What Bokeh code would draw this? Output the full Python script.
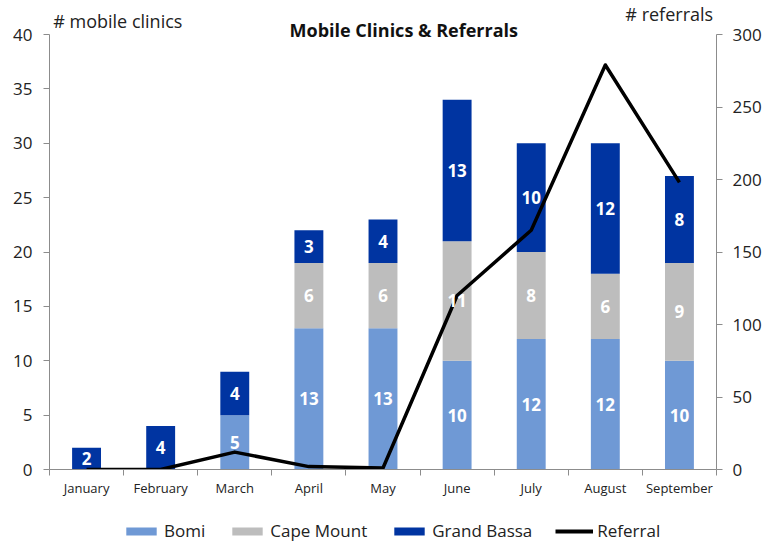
from bokeh.plotting import figure
from bokeh.layouts import column
from bokeh.models import (Range1d, LinearAxis, FixedTicker, Legend, LegendItem,
                          Label, ColumnDataSource)
from bokeh.core.properties import value
from bokeh.embed import file_html
from bokeh.resources import INLINE

months = ["January", "February", "March", "April", "May", "June",
          "July", "August", "September"]
bomi = [0, 0, 5, 13, 13, 10, 12, 12, 10]
cape_mount = [0, 0, 0, 6, 6, 11, 8, 6, 9]
grand_bassa = [2, 4, 4, 3, 4, 13, 10, 12, 8]
referrals = [0, 0, 12, 2, 1, 120, 165, 279, 198]
left_ticks = [0, 5, 10, 15, 20, 25, 30, 35, 40]
right_ticks = [0, 50, 100, 150, 200, 250, 300]
series_names = ["Bomi", "Cape Mount", "Grand Bassa", "Referral"]

C_BOMI = "#6F99D5"
C_CAPE = "#BDBDBD"
C_BASSA = "#0034A1"
AX = "#8C8C8C"
FONT = "Open Sans"

n = len(months)
xs = [i + 0.5 for i in range(n)]

LEFT_MAX = 40
RIGHT_MAX = 300
TOP_PAD = 469 / 435.0   # extra room above the 40 tick for titles

p = figure(width=782, height=500, output_backend="svg", toolbar_location=None,
           x_range=Range1d(0, n), y_range=Range1d(0, LEFT_MAX * TOP_PAD),
           min_border_left=49, min_border_right=66, min_border_top=0,
           min_border_bottom=31)
p.extra_y_ranges = {"ref": Range1d(0, RIGHT_MAX * TOP_PAD)}
p.outline_line_color = None
p.xgrid.visible = False
p.ygrid.visible = False
p.background_fill_color = "white"
p.border_fill_color = "white"

src = ColumnDataSource(dict(x=xs, bomi=bomi, cape=cape_mount, bassa=grand_bassa))
rs = p.vbar_stack(["bomi", "cape", "bassa"], x="x", width=0.39, source=src,
                  color=[C_BOMI, C_CAPE, C_BASSA], line_color=None)

line = p.line(xs, referrals, y_range_name="ref", line_color="black",
              line_width=3.5, line_join="round")

lx, ly, lt = [], [], []
for i in range(n):
    base = 0
    for v in (bomi[i], cape_mount[i], grand_bassa[i]):
        if v:
            lx.append(xs[i]); ly.append(base + v / 2); lt.append(str(v))
        base += v
p.text(x=lx, y=ly, text=lt, text_color="white", text_font=value(FONT),
       text_font_style="bold", text_font_size="17px", text_align="center",
       text_baseline="middle")

xa = p.xaxis[0]
xa.ticker = FixedTicker(ticks=xs, minor_ticks=list(range(n + 1)))
xa.major_label_overrides = {x: m for x, m in zip(xs, months)}
xa.major_tick_line_color = None
xa.minor_tick_line_color = AX
xa.minor_tick_out = 6
xa.minor_tick_in = 0
xa.axis_line_color = AX
xa.major_label_text_font = FONT
xa.major_label_text_font_size = "13px"
xa.major_label_text_color = "#222222"
xa.major_label_standoff = 3

ya = p.yaxis[0]
ya.ticker = FixedTicker(ticks=left_ticks)
ya.bounds = (0, LEFT_MAX)
ya.axis_line_color = AX
ya.major_tick_line_color = AX
ya.major_tick_out = 6
ya.major_tick_in = 0
ya.minor_tick_line_color = None
ya.major_label_text_font = FONT
ya.major_label_text_font_size = "17px"
ya.major_label_text_color = "#222222"
ya.major_label_standoff = 11

ra = LinearAxis(y_range_name="ref", ticker=FixedTicker(ticks=right_ticks),
                bounds=(0, RIGHT_MAX))
ra.axis_line_color = AX
ra.major_tick_line_color = AX
ra.major_tick_out = 6
ra.major_tick_in = 0
ra.minor_tick_line_color = None
ra.major_label_text_font = FONT
ra.major_label_text_font_size = "17px"
ra.major_label_text_color = "#222222"
ra.major_label_standoff = 10
p.add_layout(ra, "right")

p.add_layout(Label(x=4.78, y=40.37, text="Mobile Clinics & Referrals",
                   text_font=FONT, text_font_style="bold", text_font_size="18px",
                   text_align="center", text_baseline="middle", text_color="#111111"))
p.add_layout(Label(x=0.05, y=41.2, text="# mobile clinics", text_font=FONT,
                   text_font_size="18px", text_align="left", text_baseline="middle",
                   text_color="#222222"))
p.add_layout(Label(x=7.77, y=41.93, text="# referrals", text_font=FONT,
                   text_font_size="18px", text_align="left", text_baseline="middle",
                   text_color="#222222"))

# legend strip below the chart (proxy renderers lie outside its visible range)
lg = figure(width=782, height=44, output_backend="svg", toolbar_location=None,
            x_range=Range1d(0, 1), y_range=Range1d(0, 1),
            min_border_left=49, min_border_right=66, min_border_top=0,
            min_border_bottom=0)
lg.axis.visible = False
lg.grid.visible = False
lg.outline_line_color = None
lg.background_fill_color = "white"
lg.border_fill_color = "white"
proxy = ColumnDataSource(dict(x=[-5, -4], y=[-5, -4]))
d1 = lg.vbar(x="x", top="y", width=0.1, color=C_BOMI, line_color=None, source=proxy)
d2 = lg.vbar(x="x", top="y", width=0.1, color=C_CAPE, line_color=None, source=proxy)
d3 = lg.vbar(x="x", top="y", width=0.1, color=C_BASSA, line_color=None, source=proxy)
d4 = lg.line(x="x", y="y", line_color="black", line_width=4, source=proxy)

legend = Legend(items=[LegendItem(label=s, renderers=[r])
                       for s, r in zip(series_names, [d1, d2, d3, d4])],
                orientation="horizontal", location=(73, 2),
                border_line_color=None, background_fill_alpha=0,
                label_text_font=FONT, label_text_font_size="17px",
                label_text_color="#222222", label_height=18,
                glyph_width=38, glyph_height=10, spacing=23, padding=2, margin=0,
                label_standoff=4)
lg.add_layout(legend, "center")

layout = column(p, lg, spacing=0)
open("out.html", "w").write(file_html(layout, INLINE))
